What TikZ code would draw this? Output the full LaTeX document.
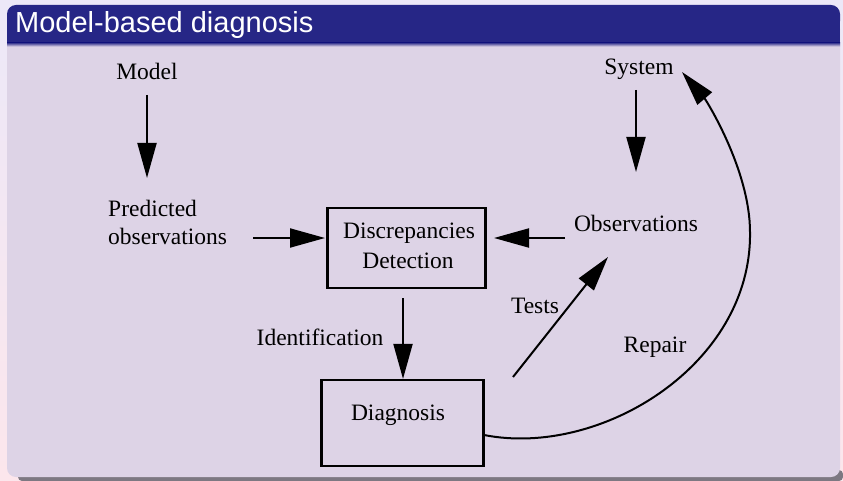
\documentclass[tikz,border=0pt]{standalone}
\usepackage{fontspec}
\setmainfont{Liberation Serif}
\newfontfamily\titlefont{Liberation Sans}
\usetikzlibrary{arrows.meta}
\definecolor{titlebg}{RGB}{38,38,134}
\definecolor{bodybg}{RGB}{221,211,230}
\definecolor{pagetop}{RGB}{236,232,248}
\definecolor{pagebot}{RGB}{252,230,236}
\definecolor{shadowc}{RGB}{125,120,130}
\begin{document}
\begin{tikzpicture}[x=1pt,y=-1pt,
  lbl/.style={font=\fontsize{23.5}{27}\selectfont, inner sep=0pt, anchor=base},
  arr/.style={line width=2pt, -{Triangle[length=35pt,width=19pt]}},
  boxed/.style={draw, line width=2.2pt}]
\useasboundingbox (0,0) rectangle (843,481);
% page background
\shade[top color=pagetop, bottom color=pagebot] (0,0) rectangle (843,481);
% shadow
\fill[shadowc, rounded corners=4pt] (18,470) rectangle (843,481);
% body
\fill[bodybg, rounded corners=9pt] (7,20) rectangle (840,477);
% title bar
\fill[titlebg, rounded corners=9pt] (7,5) rectangle (840,30);
\fill[titlebg] (7,22) rectangle (840,43);
\shade[top color=titlebg, bottom color=bodybg] (7,42.5) rectangle (840,46.5);
\node[anchor=base west, text=white, font=\titlefont\fontsize{29}{31}\selectfont, inner sep=0pt] (title) at (15,33) {Model-based diagnosis};

% text nodes
\node[lbl] (model) at (147,80) {Model};
\node[lbl] (system) at (639,75) {System};
\node[lbl, anchor=base west] (pred1) at (108,217) {Predicted};
\node[lbl, anchor=base west] (pred2) at (108,244) {observations};
\node[lbl] (obs) at (636,231) {Observations};
\node[lbl] (ident) at (320,345) {Identification};
\node[lbl] (tests) at (535,313) {Tests};
\node[lbl] (repair) at (655,352) {Repair};

% boxes
\node[boxed, minimum width=158pt, minimum height=80pt, inner sep=0pt] (disc) at (406.5,248) {};
\node[lbl] (disct1) at (409,238) {Discrepancies};
\node[lbl] (disct2) at (408,268) {Detection};
\node[boxed, minimum width=162pt, minimum height=86pt, inner sep=0pt] (diag) at (402.5,423) {};
\node[lbl] (diagt) at (398,420) {Diagnosis};

% connector end points
\coordinate (mA) at (147,95);
\coordinate (mB) at (147,178);
\coordinate (sA) at (636,90);
\coordinate (sB) at (636,172);
\coordinate (pA) at (253,238);
\coordinate (pB) at (325,238);
\coordinate (oA) at (565,238);
\coordinate (oB) at (494,238);
\coordinate (dA) at (403,298);
\coordinate (tA) at (513,377);
\coordinate (tB) at (608,257);
\coordinate (rA) at (484,435);
\coordinate (rM) at (750,232);
\coordinate (rB) at (682,72);

\draw[arr] (mA) -- (mB);
\draw[arr] (sA) -- (sB);
\draw[arr] (pA) -- (pB);
\draw[arr] (oA) -- (oB);
\draw[arr] (dA) -- (dA |- diag.north);
\draw[arr] (tA) -- (tB);
\draw[arr] (rA) .. controls (600,458) and (752,365) .. (rM)
           .. controls (750,170) and (706,100) .. (rB);
\end{tikzpicture}
\end{document}
